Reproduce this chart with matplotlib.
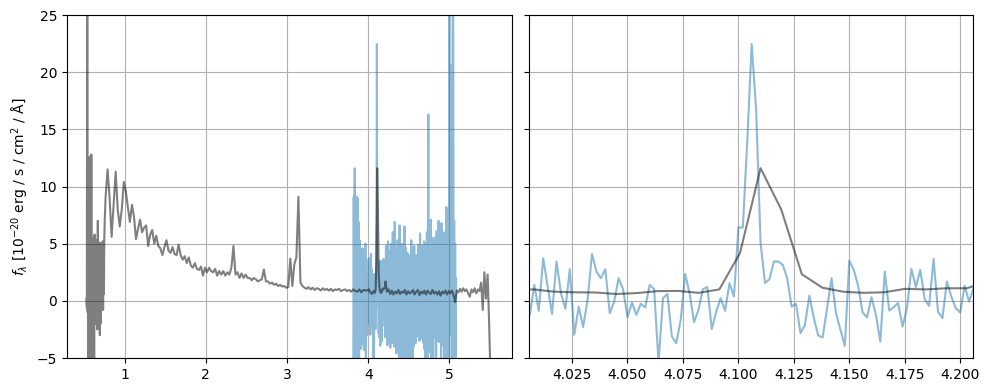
import numpy as np
import matplotlib.pyplot as plt

# ---- prism spectrum (grey), stored in pieces, each on its own pixel grid ----
# 0.530 - 0.755 um, noisy blue end
prism_a_range = (0.530, 0.755)
prism_a_flux = [0.2, -0.6, 40.0, -1.0, 12.3, -6.0, 9.0, -7.0, 12.6, -6.5,
                10.5, -8.0, 12.8, -6.0, 5.5, -7.0, 4.8, -5.5, 3.5, -6.0,
                5.8, -1.0, 4.5, -2.0, 5.3, -1.5, 4.0, -2.5, 7.0, -1.8,
                4.6, -2.2, 5.1, -3.0, 4.4, -2.0, 5.0, -0.6, 4.6, -0.3,
                5.2, -0.8, 5.0, 0.6, 5.5, 7.0]

# 0.765 - 3.965 um
prism_b_range = (0.765, 3.965)
prism_b_flux = [9.0, 11.5, 9.0, 5.6, 8.5, 11.3, 8.0, 6.5, 8.0, 10.4,
                9.6, 8.2, 6.9, 8.4, 7.4, 5.4, 6.3, 7.1, 6.0, 6.4,
                6.6, 4.8, 5.8, 6.2, 5.0, 5.7, 4.8, 4.6, 4.0, 4.7,
                5.3, 4.4, 4.2, 4.7, 4.1, 4.0, 4.9, 4.0, 3.6, 3.9,
                3.3, 3.8, 3.1, 2.9, 3.3, 2.8, 2.7, 3.0, 2.2, 2.9,
                2.5, 2.9, 2.6, 2.5, 2.8, 2.2, 2.6, 2.3, 2.6, 2.2,
                2.5, 2.3, 2.9, 4.8, 2.3, 2.5, 2.0, 2.4, 2.0, 2.3,
                2.0, 2.0, 1.8, 2.0, 1.9, 1.7, 1.8, 1.9, 2.75, 1.7,
                1.7, 1.5, 1.6, 1.4, 1.5, 1.3, 1.4, 1.25, 1.3, 1.15,
                1.2, 3.7, 1.3, 3.2, 3.8, 9.1, 1.6, 1.3, 1.15, 1.05,
                1.2, 1.0, 1.15, 0.95, 1.1, 1.05, 0.9, 1.1, 0.95, 1.05,
                0.9, 1.05, 0.85, 1.0, 0.95, 1.05, 0.85, 0.95, 1.0, 0.85,
                0.95, 0.8, 1.0, 0.85, 0.8, 1.0, 0.75, 0.95, 0.9]

# 3.998 - 4.212 um, around the line
prism_c_range = (3.9984, 4.2123)
prism_c_flux = [0.95, 1.0, 0.8, 0.75, 0.73, 0.6, 0.68, 0.85, 0.87, 0.7,
                1.0, 4.17, 11.6, 8.0, 2.33, 1.15, 0.8, 0.7, 0.75, 1.05,
                1.0, 1.1, 1.1, 1.7]

# 4.23 - 5.51 um, red end
prism_d_range = (4.23, 5.51)
prism_d_flux = [0.8, 1.0, 0.6, 0.9, 0.55, 0.8, 0.65, 0.95, 0.6, 0.8,
                0.7, 0.95, 0.55, 0.85, 0.65, 0.75, 0.95, 0.55, 0.8, 0.95,
                0.5, 0.8, 0.65, 0.9, 0.55, 0.9, 0.7, 0.6, 0.95, 0.65,
                0.8, 0.55, 0.85, 0.45, 0.8, 0.65, 0.9, 0.55, 0.85, 0.65,
                0.9, 0.5, -0.1, 0.9, 0.75, 1.05, 0.8, 1.1, 0.85, 1.0,
                0.65, 0.35, 1.0, 0.75, 1.1, 0.65, 1.0, 0.85, 1.6, -0.8,
                2.5, 0.2, 2.3, -2.4, -8.0]

# ---- grating spectrum (blue) ----
grating_a_range = (3.815, 4.001)
grating_a_flux = [-8.0, 9.1, -7.0, 11.6, -6.5, 8.0, -7.5, 9.1, -6.0, 9.0,
                  -7.0, 6.9, -5.5, 5.3, -3.5, 4.5, -4.2, 4.0, -3.0, 4.6,
                  -3.8, 3.0, -4.3, 4.1, -2.5, 5.0, -6.0, 3.6, -3.0, 2.5,
                  -2.0, 1.0]

grating_b_range = (4.006, 4.206)
grating_b_flux = [-1.22, 1.40, -0.87, 3.73, 1.25, -1.14, 3.44, 0.67, -0.70, 2.77,
                  -2.97, -0.50, -2.30, 0.09, 4.11, 2.56, 1.98, 2.77, -1.08, -0.06,
                  1.98, 1.02, -1.43, -0.15, -1.22, -0.26, -0.58, 1.40, 1.02, -5.4,
                  0.23, 0.61, -3.12, -3.70, -1.66, 2.36, 0.67, -1.86, -0.79, 1.02,
                  1.20, -2.47, -0.94, 0.23, -0.87, 1.55, 0.38, 6.41, 6.41, 14.0,
                  22.46, 16.7, 5.04, 1.55, 1.90, 3.44, 3.44, 3.15, 1.98, -0.50,
                  -0.26, -2.82, -2.10, 0.46, -1.50, -3.03, -3.21, -0.60, 1.98, -1.08,
                  -2.53, -3.93, 3.52, 2.71, 1.31, -1.02, -1.46, 0.32, -1.22, -3.56,
                  2.56, -0.85, -0.55, -0.20, -2.25, -0.64, 2.80, 1.20, 2.71, 0.15,
                  -0.44, 3.67, -0.94, -1.51, 1.69, 0.38, -0.64, -1.02, 1.31, -0.06,
                  1.11]

grating_c_range = (4.212, 5.082)
grating_c_flux = [-3.2, 4.8, -2.8, 3.6, -3.9, 5.2, -2.6, 3.0, -3.6, 4.4,
                  -4.1, 5.0, -3.0, 3.8, -3.7, 6.0, -2.4, 4.2, -4.0, 6.9,
                  -3.5, 4.6, -4.6, 3.2, -2.8, 5.3, -4.5, 4.0, -6.0, 6.6,
                  -3.0, 4.5, -7.0, 3.6, -4.2, 5.0, -5.5, 2.8, -3.4, 6.5,
                  -6.5, 4.7, -3.8, 3.5, -5.8, 4.2, -2.9, 3.0, -7.0, 4.0,
                  -4.4, 3.8, -6.0, 5.3, -3.5, 4.6, -5.2, 3.4, -4.0, 4.8,
                  -2.6, 3.2, -3.7, 4.0, -2.3, 3.5, -3.1, 4.9, -2.8, 3.0,
                  -3.5, 5.9, -2.5, 4.2, -3.3, 4.8, -2.9, 4.2, -3.7, 5.2,
                  -4.2, 4.5, -6.5, 5.0, -3.6, 6.0, -7.0, 4.2, 16.3, -4.0,
                  -4.5, 5.0, -3.8, 7.1, -6.0, 4.2, -4.3, 5.5, -5.6, 4.8,
                  -3.2, 5.5, -2.7, 4.6, -6.2, 6.1, -3.5, 5.0, -3.0, 7.0,
                  -3.6, 5.0, -2.9, 6.2, -6.0, 6.8, -3.4, 5.4, -3.9, 5.3,
                  -5.5, 6.0, -7.0, 5.3, -6.0, 8.2, -6.5, 6.5, -7.5, 7.8,
                  -6.0, 27.0, -3.0, 20.6, 5.0, 20.6, -6.0, 8.0, 28.0, 30.0,
                  -7.0, 7.0, -6.0, 5.0, -7.0, 2.0]


def join(pieces):
    waves, fluxes = [], []
    for (lo, hi), flux in pieces:
        waves.append(np.linspace(lo, hi, len(flux)))
        fluxes.append(np.asarray(flux))
    return np.concatenate(waves), np.concatenate(fluxes)


prism_wave, prism_flux = join([(prism_a_range, prism_a_flux),
                               (prism_b_range, prism_b_flux),
                               (prism_c_range, prism_c_flux),
                               (prism_d_range, prism_d_flux)])
grating_wave, grating_flux = join([(grating_a_range, grating_a_flux),
                                   (grating_b_range, grating_b_flux),
                                   (grating_c_range, grating_c_flux)])

fig = plt.figure(figsize=(9.89, 3.92), dpi=100)
ax1 = fig.add_axes([0.0677, 0.0867, 0.4500, 0.8750])
ax2 = fig.add_axes([0.5349, 0.0867, 0.4492, 0.8750], sharey=ax1)

for ax in (ax1, ax2):
    ax.plot(grating_wave, grating_flux, color="C0", alpha=0.5)
    ax.plot(prism_wave, prism_flux, color="k", alpha=0.5)
    ax.grid(True)

ax1.set_xlim(0.29, 5.77)
ax1.set_ylim(-5, 25)
ax2.set_xlim(4.0056, 4.2059)
ax2.tick_params(labelleft=False)

ax1.set_ylabel(r"$f_\lambda$ [10$^{-20}$ erg / s / cm$^2$ / Å]")

fig.savefig("out.png", dpi=100)
